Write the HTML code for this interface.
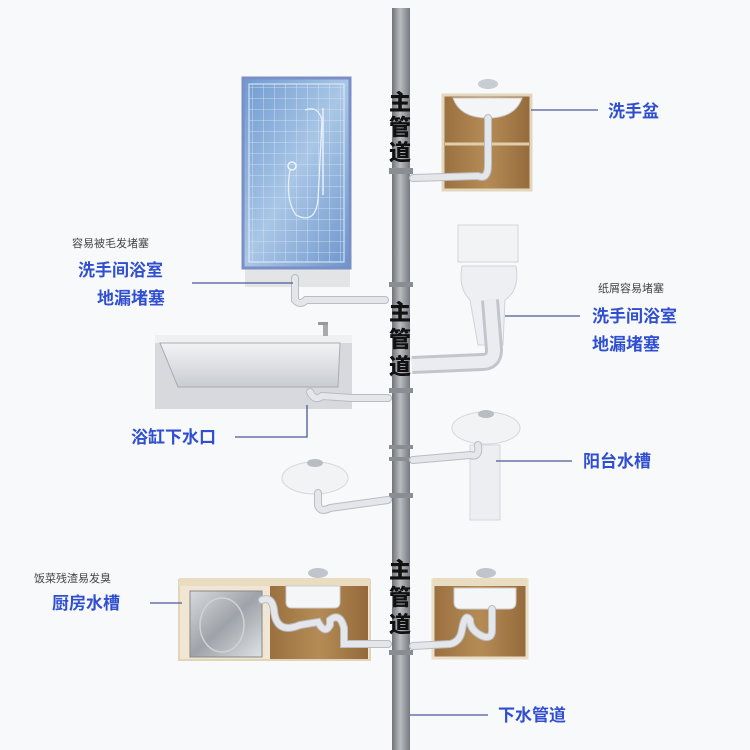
<!DOCTYPE html>
<html><head><meta charset="utf-8"><style>
html,body{margin:0;padding:0;background:#f8f9fb;}
svg{display:block}
.b{font-family:"Liberation Sans","Noto Sans CJK SC",sans-serif;font-weight:bold;fill:#2f4fd0;font-size:17px}
.s{font-family:"Liberation Sans","Noto Sans CJK SC",sans-serif;fill:#444;font-size:11px}
.m{font-family:"Liberation Sans","Noto Sans CJK SC",sans-serif;font-weight:900;fill:#111;font-size:22px}
.ln{stroke:#4a5a9a;stroke-width:1.3;fill:none}
.pp{stroke:#e4e6ea;stroke-width:6;fill:none;stroke-linecap:round}
.po{stroke:#b8bcc4;stroke-width:8;fill:none;stroke-linecap:round}
</style></head><body>
<svg width="750" height="750" viewBox="0 0 750 750" xmlns="http://www.w3.org/2000/svg">
<defs>
<linearGradient id="pg" x1="0" x2="1"><stop offset="0" stop-color="#6f7378"/><stop offset=".45" stop-color="#b9bcc0"/><stop offset="1" stop-color="#75797e"/></linearGradient>
<linearGradient id="tile" x1="0" y1="0" x2="1" y2="1"><stop offset="0" stop-color="#6f9ad0"/><stop offset=".5" stop-color="#a9c6e6"/><stop offset="1" stop-color="#6d95cb"/></linearGradient>
<linearGradient id="wood" x1="0" x2="1"><stop offset="0" stop-color="#9a7040"/><stop offset=".5" stop-color="#b58b55"/><stop offset="1" stop-color="#946a3c"/></linearGradient>
<linearGradient id="steel" x1="0" y1="0" x2="1" y2="1"><stop offset="0" stop-color="#d8dadd"/><stop offset=".5" stop-color="#9ea3a9"/><stop offset="1" stop-color="#e0e2e5"/></linearGradient>
<linearGradient id="tub" x1="0" y1="0" x2="0" y2="1"><stop offset="0" stop-color="#f2f3f5"/><stop offset="1" stop-color="#c9ccd1"/></linearGradient>
<pattern id="grid" width="11" height="11" patternUnits="userSpaceOnUse"><path d="M11 0V11H0" fill="none" stroke="#dbe7f5" stroke-width="0.8"/></pattern>
</defs>

<!-- main pipe -->
<rect x="392" y="8" width="18" height="742" fill="url(#pg)"/>
<g fill="#8a8e93"><rect x="389" y="168" width="24" height="6"/><rect x="389" y="282" width="24" height="5"/><rect x="389" y="388" width="24" height="5"/><rect x="389" y="445" width="24" height="4"/><rect x="389" y="457" width="24" height="4"/><rect x="389" y="493" width="24" height="5"/><rect x="389" y="650" width="24" height="5"/></g>
<g class="m"><text x="389" y="110">主</text><text x="389" y="135">管</text><text x="389" y="160">道</text>
<text x="389" y="320">主</text><text x="389" y="347">管</text><text x="389" y="374">道</text>
<text x="389" y="578">主</text><text x="389" y="605">管</text><text x="389" y="632">道</text></g>

<!-- shower -->
<rect x="245" y="262" width="105" height="25" fill="#e3e4e6"/>
<rect x="243" y="78" width="107" height="190" fill="url(#tile)" stroke="#7b8fc7" stroke-width="3"/>
<rect x="249" y="84" width="95" height="178" fill="url(#grid)" stroke="#e6eef8" stroke-width="1"/>
<path d="M305 110 Q318 105 322 120 L318 200 Q315 225 296 215 Q285 200 290 170" fill="none" stroke="#e8f0fa" stroke-width="1.3"/>
<circle cx="292" cy="166" r="4" fill="none" stroke="#eef4fb" stroke-width="1.5"/>
<line x1="323" y1="108" x2="323" y2="195" stroke="#e8f0fa" stroke-width="1.5"/>
<path d="M295 278 V300 Q300 306 306 300 H385" class="po"/><path d="M295 278 V300 Q300 306 306 300 H385" class="pp"/>
<line x1="192" y1="283" x2="293" y2="283" class="ln"/>

<!-- bathtub -->
<rect x="155" y="337" width="197" height="72" fill="#d7d9dd"/>
<rect x="155" y="335" width="197" height="8" fill="#eef0f2"/>
<path d="M160 343 L178 387 H338 L340 343Z" fill="url(#tub)" stroke="#a8acb2" stroke-width="1"/>
<rect x="323" y="322" width="5" height="14" fill="#aaa"/><rect x="318" y="322" width="10" height="3" fill="#999"/>
<path d="M310 392 Q315 402 322 396 L352 398 H388" class="po"/><path d="M310 392 Q315 402 322 396 L352 398 H388" class="pp"/>
<path d="M307 405 V437 H235" class="ln"/>

<!-- wash basin top right -->
<rect x="443" y="95" width="88" height="95" fill="url(#wood)" stroke="#e3d6bd" stroke-width="3"/>
<line x1="445" y1="144" x2="529" y2="144" stroke="#e0cfae" stroke-width="3"/>
<path d="M453 98 H522 Q515 118 488 118 Q460 118 453 98Z" fill="#f4f5f7" stroke="#ccc"/>
<ellipse cx="488" cy="84" rx="10" ry="5" fill="#c8ccd3"/>
<path d="M488 118 V165 Q488 180 478 176 L413 178" class="po"/><path d="M488 118 V165 Q488 180 478 176 L413 178" class="pp"/>
<line x1="531" y1="110" x2="598" y2="110" class="ln"/>

<!-- toilet -->
<rect x="458" y="225" width="60" height="37" fill="#f2f3f5" stroke="#d3d5d9"/>
<path d="M462 266 H516 Q520 290 505 300 L503 345 H478 L470 300 Q458 288 462 266Z" fill="#eeeff2" stroke="#d0d3d7"/>
<path d="M490 300 L494 350 Q494 362 482 362 L412 365" stroke="#c2c6cc" stroke-width="18" fill="none"/>
<path d="M490 300 L494 350 Q494 362 482 362 L412 365" stroke="#eaecef" stroke-width="12" fill="none"/>
<line x1="505" y1="316" x2="580" y2="316" class="ln"/>

<!-- balcony pedestal -->
<rect x="470" y="445" width="30" height="75" fill="#eceef1" stroke="#d6d8dc"/>
<ellipse cx="486" cy="428" rx="34" ry="16" fill="#f2f3f5" stroke="#d5d7db"/>
<ellipse cx="486" cy="414" rx="8" ry="4" fill="#b8bdc4"/>
<path d="M478 445 Q480 458 470 455 L413 460" class="po"/><path d="M478 445 Q480 458 470 455 L413 460" class="pp"/>
<line x1="496" y1="461" x2="572" y2="461" class="ln"/>

<!-- small basin left -->
<ellipse cx="315" cy="478" rx="33" ry="16" fill="#f2f3f5" stroke="#d5d7db"/>
<ellipse cx="315" cy="463" rx="8" ry="4" fill="#b8bdc4"/>
<path d="M318 493 V505 Q320 513 330 508 L388 500" class="po"/><path d="M318 493 V505 Q320 513 330 508 L388 500" class="pp"/>

<!-- kitchen counter left -->
<rect x="179" y="580" width="191" height="80" fill="#f0e6d3" stroke="#e2d4b8" stroke-width="2"/>
<rect x="179" y="578" width="191" height="8" fill="#e9dcc1"/>
<rect x="190" y="591" width="72" height="66" fill="url(#steel)" stroke="#888" stroke-width="1"/>
<ellipse cx="222" cy="625" rx="22" ry="27" fill="none" stroke="#cfd2d6" stroke-width="1.5"/>
<rect x="270" y="586" width="98" height="73" fill="url(#wood)"/>
<path d="M286 586 H340 V602 Q340 608 334 608 H292 Q286 608 286 602Z" fill="#f5f6f8" stroke="#ccc"/>
<ellipse cx="318" cy="573" rx="10" ry="5" fill="#c0c5cc"/>
<path d="M262 600 Q272 596 274 610 Q276 635 300 625 L318 622 Q325 635 330 625 V620 Q340 612 344 628 V644 H388" class="po"/>
<path d="M262 600 Q272 596 274 610 Q276 635 300 625 L318 622 Q325 635 330 625 V620 Q340 612 344 628 V644 H388" class="pp"/>
<line x1="150" y1="603" x2="182" y2="603" class="ln"/>

<!-- kitchen right -->
<rect x="433" y="580" width="94" height="78" fill="url(#wood)" stroke="#eadfc7" stroke-width="3"/>
<rect x="433" y="578" width="94" height="8" fill="#e9dcc1"/>
<path d="M454 588 H516 V602 Q516 609 509 609 H461 Q454 609 454 602Z" fill="#f5f6f8" stroke="#ccc"/>
<ellipse cx="486" cy="573" rx="10" ry="5" fill="#c0c5cc"/>
<path d="M492 609 V630 Q492 640 482 636 Q470 630 470 620 Q465 612 462 630 Q460 642 450 644 L413 646" class="po"/>
<path d="M492 609 V630 Q492 640 482 636 Q470 630 470 620 Q465 612 462 630 Q460 642 450 644 L413 646" class="pp"/>

<line x1="410" y1="715" x2="488" y2="715" class="ln"/>

<!-- labels -->
<text x="72" y="247" class="s">容易被毛发堵塞</text>
<text x="78" y="276" class="b">洗手间浴室</text>
<text x="97" y="304" class="b">地漏堵塞</text>
<text x="131" y="443" class="b">浴缸下水口</text>
<text x="608" y="117" class="b">洗手盆</text>
<text x="598" y="292" class="s">纸屑容易堵塞</text>
<text x="592" y="322" class="b">洗手间浴室</text>
<text x="592" y="350" class="b">地漏堵塞</text>
<text x="583" y="467" class="b">阳台水槽</text>
<text x="34" y="582" class="s">饭菜残渣易发臭</text>
<text x="52" y="609" class="b">厨房水槽</text>
<text x="498" y="721" class="b">下水管道</text>
</svg>
</body></html>
